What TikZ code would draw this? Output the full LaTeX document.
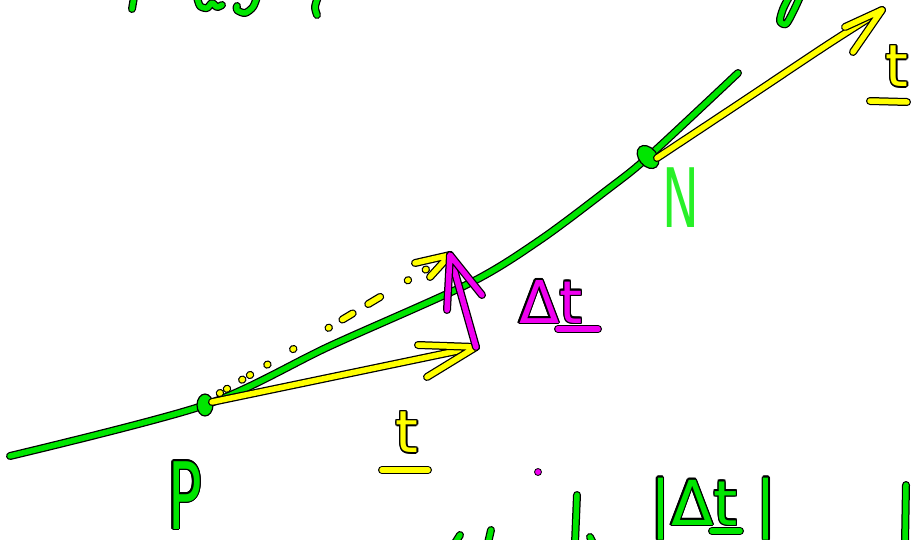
\documentclass[tikz,border=0pt]{standalone}
\usepackage{fontspec}
\setmainfont{DejaVu Sans}
\usepackage{contour}
\usepackage{graphicx}
\usetikzlibrary{calc}
\definecolor{inkgreen}{RGB}{0, 230, 0}
\definecolor{inkyellow}{RGB}{255, 255, 0}
\definecolor{inkmagenta}{RGB}{240, 0, 240}
\definecolor{paleinkgreen}{RGB}{40, 240, 40}
\contourlength{1.4pt}
\contournumber{12}
\tikzset{
    pen/.style={line width=5.5pt, line cap=round, line join=round,
        preaction={draw=black, line width=8pt, line cap=round, line join=round}},
    inklabel/.style={inner sep=0pt},
}

\begin{document}
\begin{tikzpicture}[x=1pt,y=-1pt]
    \useasboundingbox (0,0) rectangle (911,539);
    \clip (0,0) rectangle (911,539);
    \coordinate (P) at (205,405);
    \coordinate (Pt) at (212,402);
    \coordinate (Ps) at (215,396);
    \coordinate (N) at (648,157);
    \coordinate (Nt) at (657,158);
    \coordinate (Q) at (476,347);
    \coordinate (R) at (450,255);
    \coordinate (T) at (882,10);

    \draw[pen,inkgreen] (134,-3) -- (132,9);
    \draw[pen,inkgreen] plot[smooth] coordinates {(197,-3) (200,6) (207,8) (212,3) (217,7) (222,5)};
    \draw[pen,inkgreen] plot[smooth] coordinates {(257,-3) (253,7) (245,13) (237,10) (237,6)};
    \draw[pen,inkgreen] plot[smooth] coordinates {(318,-3) (315,7) (317,15)};
    \draw[pen,inkgreen] plot[smooth] coordinates {(800,-3) (793,12) (786,24) (780,21) (783,9) (789,-3)};
    \draw[pen,inkgreen] (460,535) -- (455,543);
    \draw[pen,inkgreen] (491,530) -- (488,543);
    \draw[pen,inkgreen] (577,495) -- (575,543);
    \draw[pen,inkgreen] (590,537) -- (593,543);
    \draw[pen,inkgreen] (906,485) -- (905,543);
    \fill[inkmagenta,draw=black,line width=0.8pt] (538,472) circle [radius=3.5];

    \draw[pen,inkgreen] plot[smooth,tension=0.5] coordinates {(10,456) (P) (330,346) (470,283) (540,240) (607,190) (N) (738,73)};
    \draw[black,line width=1.2pt,fill=inkgreen] (P) ellipse [x radius=8, y radius=11];
    \draw[black,line width=1.2pt,fill=inkgreen,rotate around={40:(N)}] (N) ellipse [x radius=9, y radius=13];

    \draw[pen,inkyellow] plot[smooth] coordinates {(Nt) (740,103) (827,45) (T)};
    \draw[pen,inkyellow] (845,27) -- (T) -- (853,52);
    \draw[pen,inkyellow] (Pt) -- (Q);
    \draw[pen,inkyellow] (418,345) -- (Q) -- (427,377);
    \foreach \a/\b in {0.02/0.022, 0.05/0.052, 0.115/0.117, 0.148/0.15, 0.222/0.224, 0.332/0.334,
        0.483/0.485, 0.542/0.586, 0.652/0.703, 0.82/0.822, 0.896/0.898}
        \draw[pen,inkyellow] ($(Ps)!\a!(R)$) -- ($(Ps)!\b!(R)$);
    \draw[pen,inkyellow] (415,263) -- (R) -- (430,277);

    \draw[pen,inkmagenta] (Q) -- (R);
    \draw[pen,inkmagenta] (447,310) -- (R) -- (482,295);

    \node[inklabel,text=inkgreen,font=\fontsize{93}{93}\selectfont] (labelP) at (185,496) {\contour{black}{\scalebox{0.6}[1]{P}}};
    \node[inklabel,text=paleinkgreen,font=\fontsize{82}{82}\selectfont] (labelN) at (681,198) {\scalebox{0.6}[1]{N}};
    \node[inklabel,text=inkyellow,font=\fontsize{58}{58}\selectfont] (labelt) at (407,433) {\contour{black}{t}};
    \draw[pen,inkyellow] (382,470) -- (428,470);
    \node[inklabel,text=inkyellow,font=\fontsize{58}{58}\selectfont] (labeltN) at (897,67) {\contour{black}{t}};
    \draw[pen,inkyellow] (870,101) -- (907,102);
    \node[inklabel,text=inkmagenta,font=\fontsize{59}{59}\selectfont,anchor=base west] (labeldt) at (519,323) {\contour{black}{Δt}};
    \draw[pen,inkmagenta] (558,329) -- (598,329);
    \node[inklabel,text=inkgreen,font=\fontsize{62}{62}\selectfont,anchor=base west] (labelabs) at (650,525) {\contour{black}{|Δt\kern18pt|}};
    \draw[pen,inkgreen] (712,531) -- (740,531);
\end{tikzpicture}
\end{document}
